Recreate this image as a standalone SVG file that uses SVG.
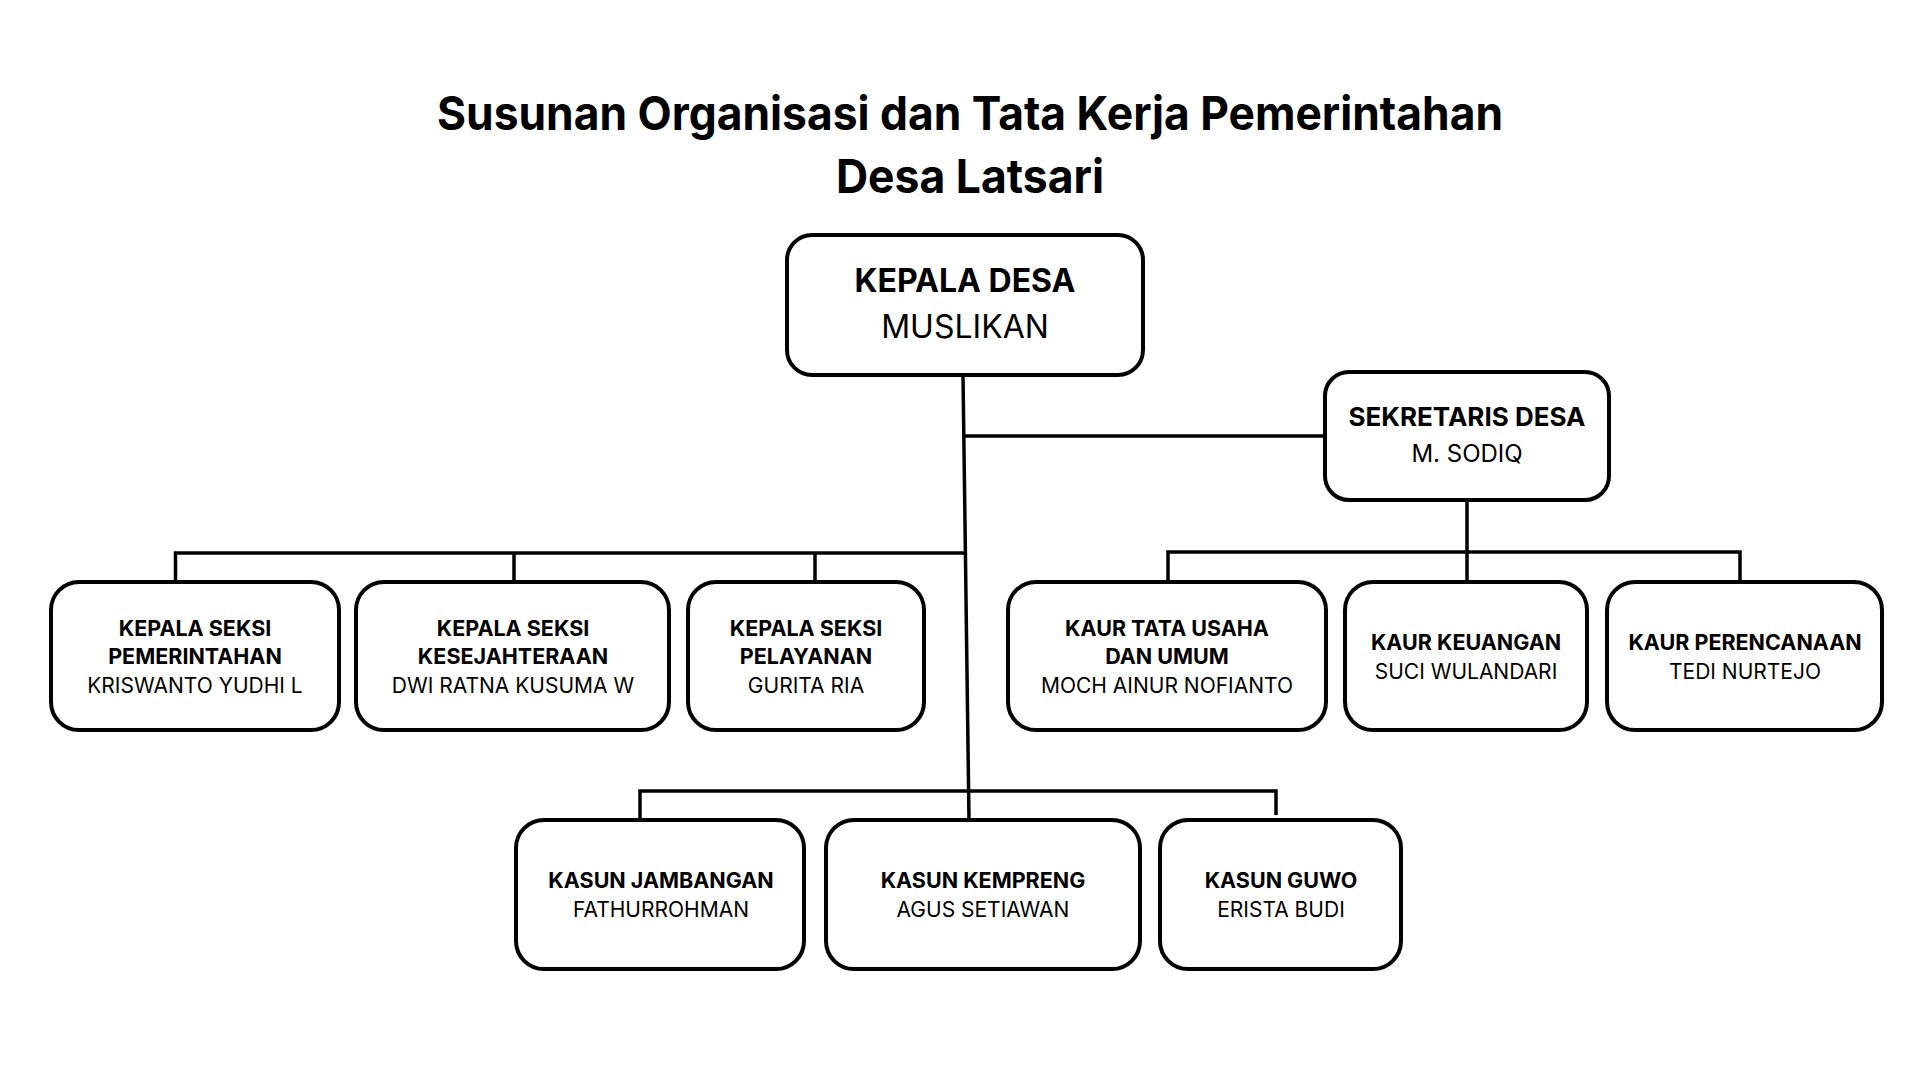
<svg xmlns="http://www.w3.org/2000/svg" width="1920" height="1080" viewBox="0 0 1920 1080">
<style>
.box{fill:#fff;stroke:#000;stroke-width:4}
.ln{fill:none;stroke:#000;stroke-width:3.5}
text{font-family:Inter,"Noto Sans","Liberation Sans",sans-serif;fill:#000;text-anchor:middle}
.t{font-size:47px;font-weight:700}
.b{font-weight:700;font-size:21.5px}
.r{font-weight:400;font-size:21px}
</style>
<rect width="1920" height="1080" fill="#fff"/>
<g id="title">
<text class="t" x="970" y="130" textLength="1066" lengthAdjust="spacingAndGlyphs">Susunan Organisasi dan Tata Kerja Pemerintahan</text>
<text class="t" x="970" y="193" textLength="268" lengthAdjust="spacingAndGlyphs">Desa Latsari</text>
</g>
<g id="connectors">
<path class="ln" d="M963 375 L969 820"/>
<path class="ln" d="M965 436 H1325"/>
<path class="ln" d="M175.5 582 V553 H965 M514 553 V582 M815 553 V582"/>
<path class="ln" d="M1467 500 V582 M1168 582 V552 H1740 V582"/>
<path class="ln" d="M640 820 V791 H1276 V815"/>
</g>
<g id="kepala-desa">
<rect class="box" x="787" y="235" width="356" height="140" rx="25"/>
<text x="965" y="292" font-size="32" font-weight="700">KEPALA DESA</text>
<text x="965" y="338" font-size="32" font-weight="400">MUSLIKAN</text>
</g>
<g id="sekretaris-desa">
<rect class="box" x="1325" y="372" width="284" height="128" rx="24"/>
<text x="1467" y="426" font-size="26" font-weight="700">SEKRETARIS DESA</text>
<text x="1467" y="462" font-size="24" font-weight="400">M. SODIQ</text>
</g>
<g id="kasi-pemerintahan">
<rect class="box" x="51" y="582" width="288" height="148" rx="28"/>
<text class="b" x="195" y="636">KEPALA SEKSI</text>
<text class="b" x="195" y="664">PEMERINTAHAN</text>
<text class="r" x="195" y="693">KRISWANTO YUDHI L</text>
</g>
<g id="kasi-kesejahteraan">
<rect class="box" x="356" y="582" width="313" height="148" rx="28"/>
<text class="b" x="513" y="636">KEPALA SEKSI</text>
<text class="b" x="513" y="664">KESEJAHTERAAN</text>
<text class="r" x="513" y="693">DWI RATNA KUSUMA W</text>
</g>
<g id="kasi-pelayanan">
<rect class="box" x="688" y="582" width="236" height="148" rx="28"/>
<text class="b" x="806" y="636">KEPALA SEKSI</text>
<text class="b" x="806" y="664">PELAYANAN</text>
<text class="r" x="806" y="693">GURITA RIA</text>
</g>
<g id="kaur-tu">
<rect class="box" x="1008" y="582" width="318" height="148" rx="28"/>
<text class="b" x="1167" y="636">KAUR TATA USAHA</text>
<text class="b" x="1167" y="664">DAN UMUM</text>
<text class="r" x="1167" y="693">MOCH AINUR NOFIANTO</text>
</g>
<g id="kaur-keuangan">
<rect class="box" x="1345" y="582" width="242" height="148" rx="28"/>
<text class="b" x="1466" y="650">KAUR KEUANGAN</text>
<text class="r" x="1466" y="679">SUCI WULANDARI</text>
</g>
<g id="kaur-perencanaan">
<rect class="box" x="1607" y="582" width="275" height="148" rx="28"/>
<text class="b" x="1745" y="650">KAUR PERENCANAAN</text>
<text class="r" x="1745" y="679">TEDI NURTEJO</text>
</g>
<g id="kasun-jambangan">
<rect class="box" x="516" y="820" width="288" height="149" rx="28"/>
<text class="b" x="661" y="888">KASUN JAMBANGAN</text>
<text class="r" x="661" y="917">FATHURROHMAN</text>
</g>
<g id="kasun-kempreng">
<rect class="box" x="826" y="820" width="314" height="149" rx="28"/>
<text class="b" x="983" y="888">KASUN KEMPRENG</text>
<text class="r" x="983" y="917">AGUS SETIAWAN</text>
</g>
<g id="kasun-guwo">
<rect class="box" x="1160" y="820" width="241" height="149" rx="28"/>
<text class="b" x="1281" y="888">KASUN GUWO</text>
<text class="r" x="1281" y="917">ERISTA BUDI</text>
</g>
</svg>
